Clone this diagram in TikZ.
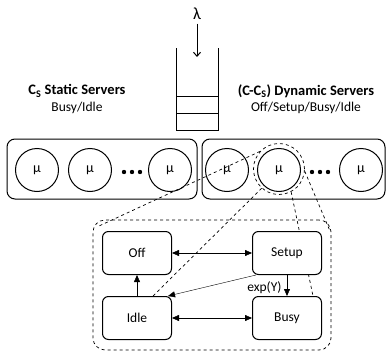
\documentclass[tikz,border=0pt]{standalone}
\usepackage{fontspec}
\setmainfont{Carlito}
\usetikzlibrary{arrows.meta,backgrounds}
\begin{document}
\begin{tikzpicture}[>={Triangle[length=7pt,width=6pt]},x=1pt,y=-1pt,line width=1pt,
	font=\fontsize{13.5}{15}\selectfont,
	group/.style={draw,rounded corners=8pt,minimum width=190pt,minimum height=60pt},
	server/.style={draw,circle,minimum size=43pt,inner sep=0pt,font=\fontsize{14}{15}\selectfont},
	state/.style={draw,fill=white,rounded corners=6pt,minimum width=69pt,minimum height=43pt},
	zoomline/.style={dashed,line width=0.7pt}]
	\useasboundingbox (0,0) rectangle (386,351);
	
	% erkezesek es sor
	\node[font=\fontsize{17}{18}\selectfont] (lambda) at (197,14) {λ};
	\coordinate (qin) at (197,57);
	\draw [-{Straight Barb[length=4pt,width=7pt]}] (lambda) -- (qin);
	\draw (176,48) -- (176,130) -- (218,130) -- (218,48);
	\draw (176,96) -- (218,96);
	\draw (176,113) -- (218,113);
	
	% feliratok
	\node[font=\fontsize{14.5}{16}\selectfont\bfseries] (stat) at (77,91) {C\textsubscript{S} Static Servers};
	\node (statsub) at (77,108) {Busy/Idle};
	\node[font=\fontsize{14.5}{16}\selectfont\bfseries] (dyn) at (306,91) {(C-C\textsubscript{S}) Dynamic Servers};
	\node (dynsub) at (306,108) {Off/Setup/Busy/Idle};
	
	% szerver csoportok
	\node[group] (statbox) at (102,169) {};
	\node[group, minimum width=183pt] (dynbox) at (293.5,169) {};
	
	\node[server] (s1) at (37,170) {μ};
	\node[server] (s2) at (90,170) {μ};
	\node[server] (s3) at (170,170) {μ};
	\node[server] (d1) at (227,170) {μ};
	\node[server] (d2) at (279,170) {μ};
	\node[server] (d3) at (361,170) {μ};
	
	\fill (124,172) circle (2.2) (132,172) circle (2.2) (140,172) circle (2.2);
	\fill (312,172) circle (2.2) (320,172) circle (2.2) (328,172) circle (2.2);
	
	% nagyitas
	\node[draw,circle,dashed,line width=0.7pt,minimum size=51pt] (zoom) at (279,169) {};
	\node[draw,dashed,line width=0.7pt,rounded corners=12pt,minimum width=238pt,minimum height=130pt] (detail) at (212,285) {};
	\coordinate (dtl) at (99,226);
	\coordinate (dtr) at (330,231);
	
	% allapotok
	\node[state] (off) at (137,253) {Off};
	\node[state] (setup) at (287,253) {Setup};
	\node[state] (idle) at (137,318) {Idle};
	\node[state] (busy) at (287,318) {Busy};
	
	\begin{pgfonlayer}{background}
	\draw [zoomline] (zoom.137) -- (dtl);
	\draw [zoomline] (zoom.-5) -- (dtr);
	\draw [zoomline] (zoom.228) -- ([xshift=16pt]idle.north);
	\draw [zoomline] (zoom.298) -- ([xshift=26pt]busy.north);
	\end{pgfonlayer}
	
	\draw [<->] (off) -- (setup);
	\draw [<->] (idle) -- (busy);
	\draw [->] (idle) -- (off);
	\draw [->] (setup) -- node[left,xshift=-2pt,yshift=-2pt]{exp(Υ)} (busy);
	\draw [->] ([xshift=4pt]setup.south west) -- ([xshift=-4pt]idle.north east);
\end{tikzpicture}
\end{document}
